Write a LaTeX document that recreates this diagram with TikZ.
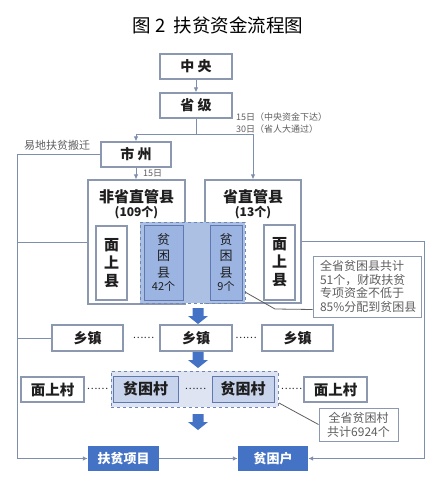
\documentclass[tikz,border=0pt]{standalone}
\usepackage{fontspec}
\setmainfont{Noto Sans CJK SC}
\usetikzlibrary{arrows.meta}
\definecolor{boxline}{RGB}{140,152,175}
\definecolor{connc}{RGB}{125,143,172}
\definecolor{txt}{RGB}{30,30,30}
\definecolor{gtxt}{RGB}{95,95,95}
\definecolor{regfill}{RGB}{172,192,228}
\definecolor{regline}{RGB}{110,135,185}
\definecolor{innerfill}{RGB}{155,180,226}
\definecolor{innerline}{RGB}{95,120,175}
\definecolor{cunfill}{RGB}{222,228,242}
\definecolor{cuninner}{RGB}{200,212,236}
\definecolor{mblue}{RGB}{68,114,196}
\newcommand{\fs}[2]{\fontsize{#1}{#2}\selectfont}
\begin{document}
\begin{tikzpicture}[x=1pt,y=-1pt,
  box/.style={draw=boxline, line width=1.1pt, fill=white, inner sep=0pt, text=txt},
  lbl/.style={font=\fs{14}{16}\bfseries},
  vtext/.style={font=\fs{15}{18}\bfseries, align=center},
  link/.style={draw=connc, line width=0.9pt},
  arr/.style={link, -{Latex[length=5pt,width=4.5pt]}},
  note/.style={draw=boxline, line width=1pt, fill=white, text=gtxt, inner sep=0pt, align=left},
  small/.style={text=gtxt, inner sep=0pt, font=\fs{9}{11}},
  dots/.style={text=txt, inner sep=0pt, font=\fs{10}{12}},
  bluebox/.style={fill=mblue, text=white, inner sep=0pt, font=\fs{13}{15}\bfseries},
  blockarr/.style={fill=mblue}]
\fill[white] (0,0) rectangle (436,486);
\useasboundingbox (0,0) rectangle (436,486);

% title
\node[inner sep=0pt, text=black, font=\fs{18.5}{20}] (title) at (218,25) {图 2\ \ 扶贫资金流程图};

% top chain
\node[box, lbl, minimum width=72, minimum height=25] (zy) at (196,66.5) {中 央};
\node[box, lbl, minimum width=72, minimum height=25] (sj) at (196,105.5) {省 级};
\node[box, lbl, minimum width=70, minimum height=25] (sz) at (136,154.5) {市 州};

% big county boxes
\node[box, minimum width=97, minimum height=124] (fsz) at (136.5,242) {};
\node[box, minimum width=96, minimum height=123] (szg) at (253,241.5) {};
\node[inner sep=0pt, text=txt, font=\fs{15}{17}\bfseries] (fszt) at (136.5,197) {非省直管县};
\node[inner sep=0pt, text=txt, font=\fs{12}{14}\bfseries] (fszn) at (136.5,213) {(109个)};
\node[inner sep=0pt, text=txt, font=\fs{15}{17}\bfseries] (szgt) at (253,197) {省直管县};
\node[inner sep=0pt, text=txt, font=\fs{12}{14}\bfseries] (szgn) at (253,213) {(13个)};

% poor county region
\node[draw=regline, dashed, line width=1pt, fill=regfill, minimum width=105, minimum height=81, inner sep=0pt] (dreg) at (192.5,262.5) {};
\node[draw=innerline, line width=1pt, fill=innerfill, minimum width=39, minimum height=75, inner sep=0pt, text=txt, align=center, font=\fs{13}{16.5}] (pkx1) at (163.5,262.5) {贫\\困\\县\\[-3pt]{\fs{11}{12}42个}};
\node[draw=innerline, line width=1pt, fill=innerfill, minimum width=32, minimum height=75, inner sep=0pt, text=txt, align=center, font=\fs{13}{16.5}] (pkx2) at (226,262.5) {贫\\困\\县\\[-3pt]{\fs{11}{12}9个}};
\node[box, vtext, minimum width=31, minimum height=74] (msx1) at (111.5,263) {面\\上\\县};
\node[box, vtext, minimum width=31, minimum height=75] (msx2) at (279.5,262.5) {面\\上\\县};

% annotation 1
\node[note, minimum width=108, minimum height=61, text width=94, inner xsep=7, font=\fs{12}{13.5}] (ann1) at (367,286.5) {全省贫困县共计\\51个，财政扶贫\\专项资金不低于\\85\%分配到贫困县};
\coordinate (p1a) at (275,309);
\coordinate (p1b) at (245,292);
\draw[draw=gtxt, line width=0.8pt] ([yshift=8pt]ann1.south west) -- (p1a) -- (p1b);

% town row
\node[box, lbl, minimum width=71, minimum height=26] (xz1) at (87.5,338) {乡镇};
\node[box, lbl, minimum width=72, minimum height=26] (xz2) at (196,338) {乡镇};
\node[box, lbl, minimum width=71, minimum height=26] (xz3) at (297.5,338) {乡镇};
\node[dots] (d1) at (143.5,338) {……};
\node[dots] (d2) at (246,338) {……};

% village row
\node[draw=regline, dashed, line width=1pt, fill=cunfill, minimum width=167, minimum height=36, inner sep=0pt] (cunreg) at (194.5,389) {};
\node[draw=innerline, line width=1pt, fill=cuninner, minimum width=65, minimum height=26, inner sep=0pt, text=txt, font=\fs{15}{17}\bfseries] (pkc1) at (145.5,389) {贫困村};
\node[draw=innerline, line width=1pt, fill=cuninner, minimum width=62, minimum height=26, inner sep=0pt, text=txt, font=\fs{15}{17}\bfseries] (pkc2) at (243,389) {贫困村};
\node[box, font=\fs{14.5}{16}\bfseries, minimum width=63, minimum height=25] (msc1) at (52.5,389.5) {面上村};
\node[box, font=\fs{14.5}{16}\bfseries, minimum width=63, minimum height=25] (msc2) at (335.5,389.5) {面上村};
\node[dots] (d3) at (97.5,389) {……};
\node[dots] (d4) at (195.5,389) {……};
\node[dots] (d5) at (291.5,389) {……};

% annotation 2
\node[note, minimum width=79, minimum height=33, font=\fs{12}{14}, align=center] (ann2) at (358.5,424.5) {全省贫困村\\共计6924个};
\coordinate (p2a) at (279,403);
\draw[draw=gtxt, line width=0.8pt] (p2a) -- (ann2.west);

% block arrows
\fill[blockarr] (192.5,308) -- (203.5,308) -- (203.5,316) -- (208,316) -- (198,324) -- (188,316) -- (192.5,316) -- cycle;
\fill[blockarr] (192.5,352) -- (203.5,352) -- (203.5,360) -- (208,360) -- (198,368) -- (188,360) -- (192.5,360) -- cycle;
\fill[blockarr] (192.5,414) -- (203.5,414) -- (203.5,422) -- (208,422) -- (198,430) -- (188,422) -- (192.5,422) -- cycle;

% bottom
\node[bluebox, minimum width=71, minimum height=25] (fpxm) at (123.5,458.5) {扶贫项目};
\node[bluebox, minimum width=70, minimum height=25] (pkh) at (273,458.5) {贫困户};

% labels
\node[small, anchor=west] (lab1) at (236,117) {15日（中央资金下达）};
\node[small, anchor=west] (lab2) at (236,129) {30日（省人大通过）};
\node[small, anchor=west] (lab3) at (143,173) {15日};
\node[inner sep=0pt, text=gtxt, font=\fs{11}{13}] (lab4) at (57,145) {易地扶贫搬迁};

% connectors
\coordinate (j1) at (196,134);
\coordinate (jl) at (136,134);
\coordinate (jr) at (253,134);
\draw[arr] (zy) -- (sj);
\draw[link] (sj.south) -- (j1);
\draw[link] (jl) -- (jr);
\draw[arr] (jl) -- (sz.north);
\draw[arr] (jr) -- (szg.north);
\draw[arr] (sz.south) -- (sz.south |- fsz.north);

\coordinate (L1) at (17,154.5);
\coordinate (L2) at (17,458.5);
\draw[arr] (sz.west) -- (L1) -- (L2) -- (fpxm.west);
\draw[link] (fsz.west) -- (fsz.west -| L1);
\draw[link] (xz1.west) -- (xz1.west -| L1);

\coordinate (R1) at (424,241.5);
\coordinate (R2) at (424,458.5);
\draw[arr] (szg.east) -- (R1) -- (R2) -- (pkh.east);
\draw[arr] (fpxm.east) -- (pkh.west);
\end{tikzpicture}
\end{document}
